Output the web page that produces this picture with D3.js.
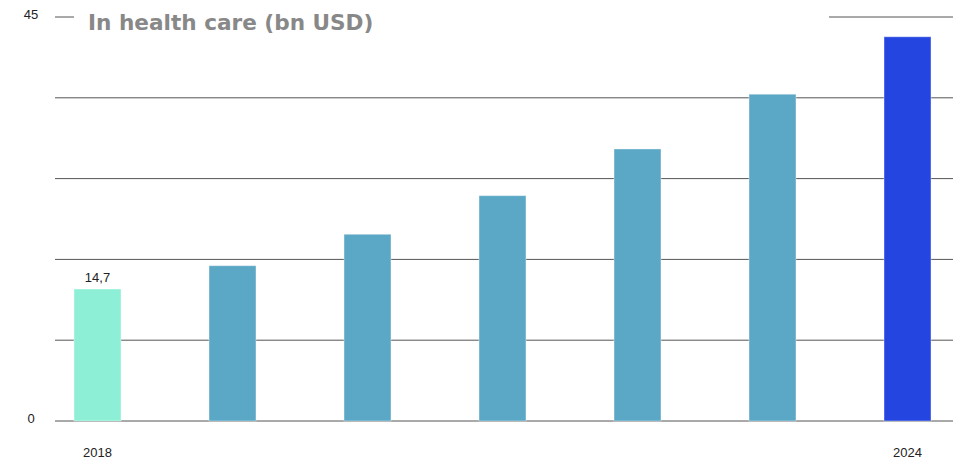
<!doctype html>
<html>
<head>
<meta charset="utf-8">
<script src="https://d3js.org/d3.v7.min.js"></script>
<style>
  body {margin: 0; background: #fff;}
  text {font-family: "Liberation Sans", Arial, sans-serif;}
  text.title {font-family: "DejaVu Sans", Verdana, sans-serif;}
</style>
</head>
<body>
<svg id="chart" width="953" height="460"></svg>
<script>
// data
var years = ["2018", "2019", "2020", "2021", "2022", "2023", "2024"];
var values = [14.7, 17.3, 20.8, 25.1, 30.3, 36.4, 42.8];
var barColors = ["#8cefd6", "#5ba7c6", "#5ba7c6", "#5ba7c6", "#5ba7c6", "#5ba7c6", "#2445e0"];
var yTicks = [0, 9, 18, 27, 36, 45];
var yTickLabels = ["0", "", "", "", "", "45"];
var xTickLabels = ["2018", "", "", "", "", "", "2024"];
var valueLabels = ["14,7", "", "", "", "", "", ""];

var svg = d3.select("#chart");

var x = d3.scaleBand().domain(years).range([30, 975]).paddingInner(0.652).paddingOuter(0.326);
var y = d3.scaleLinear().domain([0, 45]).range([421, 17]);

// gridlines
svg.append("g").selectAll("line")
  .data(yTicks)
  .enter()
  .append("line")
    .attr("x1", 55).attr("x2", 953)
    .attr("y1", function(d){return y(d)}).attr("y2", function(d){return y(d)})
    .attr("stroke", "#555").attr("stroke-width", 1);

// y labels
svg.append("g").selectAll("text")
  .data(yTicks)
  .enter()
  .append("text")
    .attr("x", 31).attr("y", function(d){return y(d) + 2})
    .attr("text-anchor", "middle")
    .attr("font-size", 13).attr("fill", "#222")
    .text(function(d,i){return yTickLabels[i]});

// bars
svg.append("g").selectAll("rect")
  .data(values)
  .enter()
  .append("rect")
    .attr("x", function(d,i){return x(years[i])})
    .attr("width", x.bandwidth())
    .attr("y", function(d){return y(d)})
    .attr("height", function(d){return y(0) - y(d)})
    .attr("fill", function(d,i){return barColors[i]})
    .attr("stroke", "rgba(255,255,255,0.4)").attr("stroke-width", 1);

// value labels
svg.append("g").selectAll("text")
  .data(values)
  .enter()
  .append("text")
    .attr("x", function(d,i){return x(years[i]) + x.bandwidth()/2})
    .attr("y", function(d){return y(d) - 7})
    .attr("text-anchor", "middle")
    .attr("font-size", 13).attr("fill", "#222")
    .text(function(d,i){return valueLabels[i]});

// x labels
svg.append("g").selectAll("text")
  .data(years)
  .enter()
  .append("text")
    .attr("x", function(d){return x(d) + x.bandwidth()/2})
    .attr("y", 457)
    .attr("text-anchor", "middle")
    .attr("font-size", 13).attr("fill", "#222")
    .text(function(d,i){return xTickLabels[i]});

// title, with white box covering the top gridline
svg.append("rect")
  .attr("x", 74).attr("y", 2).attr("width", 755).attr("height", 32)
  .attr("fill", "#fff");
svg.append("text")
  .attr("class", "title")
  .attr("x", 88).attr("y", 30)
  .attr("font-weight", "bold").attr("font-size", 21.6).attr("fill", "#888")
  .text("In health care (bn USD)");
</script>
</body>
</html>
